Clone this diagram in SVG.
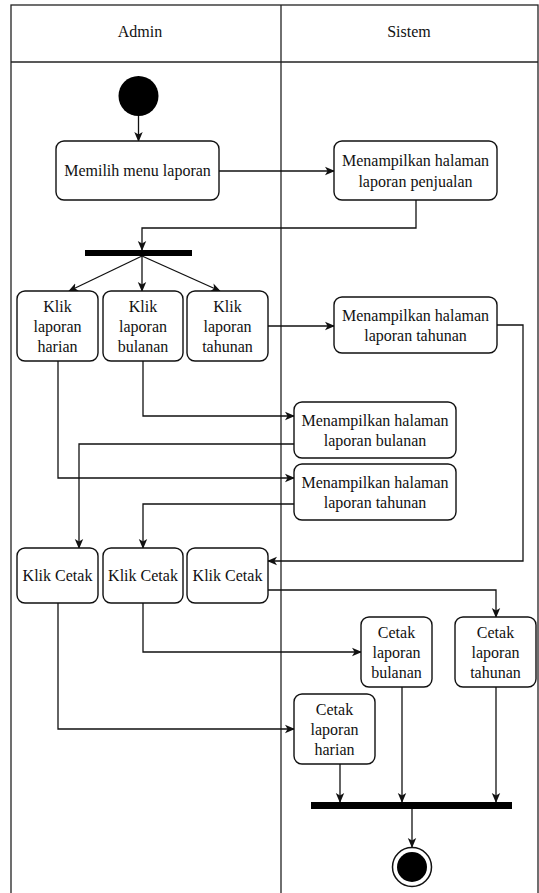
<svg xmlns="http://www.w3.org/2000/svg" width="539" height="893" viewBox="0 0 539 893">
  <style>
    .lane { fill: none; stroke: #222; stroke-width: 1.3; }
    .act rect { fill: #fff; stroke: #111; stroke-width: 1.4; }
    .act text, .hdr { font-family: "Liberation Serif", "Times New Roman", serif; font-size: 16px; fill: #111; text-anchor: middle; }
    .flow { fill: none; stroke: #111; stroke-width: 1.3; marker-end: url(#arrow); }
    .bar { fill: #000; }
  </style>
  <defs>
    <marker id="arrow" viewBox="0 0 10 10" refX="9" refY="5" markerWidth="10" markerHeight="10" markerUnits="userSpaceOnUse" orient="auto">
      <path d="M0,0.8 L10,5 L0,9.2 L2.6,5 Z" fill="#111"/>
    </marker>
  </defs>

  <!-- swimlane frame -->
  <g id="lanes">
    <rect class="lane" x="11" y="5" width="527" height="895"/>
    <line class="lane" x1="11" y1="62" x2="538" y2="62"/>
    <line class="lane" x1="281" y1="5" x2="281" y2="893"/>
    <text class="hdr" x="140" y="37">Admin</text>
    <text class="hdr" x="409" y="37">Sistem</text>
  </g>

  <!-- connectors -->
  <g id="connectors">
    <polyline class="flow" points="138.5,116 138.5,141"/>
    <polyline class="flow" points="219,171 334,171"/>
    <polyline class="flow" points="416,200 416,228 142,228 142,250"/>
    <polyline class="flow" points="142,256 69,291"/>
    <polyline class="flow" points="142,256 142,291"/>
    <polyline class="flow" points="142,256 220,291"/>
    <polyline class="flow" points="268,326 334,326"/>
    <polyline class="flow" points="497,325 523,325 523,561 268,561"/>
    <polyline class="flow" points="143,361 143,416 294,416"/>
    <polyline class="flow" points="294,444 79,444 79,548"/>
    <polyline class="flow" points="58,361 58,478 294,478"/>
    <polyline class="flow" points="294,504 143,504 143,548"/>
    <polyline class="flow" points="268,590 496,590 496,617"/>
    <polyline class="flow" points="143,603 143,652 361,652"/>
    <polyline class="flow" points="58,603 58,729 294,729"/>
    <polyline class="flow" points="340,764 340,802"/>
    <polyline class="flow" points="402,687 402,802"/>
    <polyline class="flow" points="496,687 496,802"/>
    <polyline class="flow" points="412,809 412,847"/>
  </g>

  <!-- start node -->
  <g id="start">
    <circle cx="138.5" cy="96" r="20" fill="#000"/>
  </g>

  <g id="memilihMenu" class="act">
    <rect x="56" y="141" width="163" height="59" rx="8"/>
    <text x="137.5" y="176">Memilih menu laporan</text>
  </g>

  <g id="tampilPenjualan" class="act">
    <rect x="334" y="141" width="163" height="59" rx="8"/>
    <text x="415.5" y="166">Menampilkan halaman</text>
    <text x="415.5" y="187">laporan penjualan</text>
  </g>

  <g id="forkBar">
    <rect class="bar" x="85" y="250" width="107" height="6"/>
  </g>

  <g id="klikHarian" class="act">
    <rect x="17" y="291" width="81" height="70" rx="8"/>
    <text x="57.5" y="311.5">Klik</text>
    <text x="57.5" y="331.5">laporan</text>
    <text x="57.5" y="351.5">harian</text>
  </g>

  <g id="klikBulanan" class="act">
    <rect x="103" y="291" width="80" height="70" rx="8"/>
    <text x="143" y="311.5">Klik</text>
    <text x="143" y="331.5">laporan</text>
    <text x="143" y="351.5">bulanan</text>
  </g>

  <g id="klikTahunan" class="act">
    <rect x="187" y="291" width="81" height="70" rx="8"/>
    <text x="227.5" y="311.5">Klik</text>
    <text x="227.5" y="331.5">laporan</text>
    <text x="227.5" y="351.5">tahunan</text>
  </g>

  <g id="tampilTahunanA" class="act">
    <rect x="334" y="297" width="163" height="56" rx="8"/>
    <text x="415.5" y="320.5">Menampilkan halaman</text>
    <text x="415.5" y="340.5">laporan tahunan</text>
  </g>

  <g id="tampilBulanan" class="act">
    <rect x="294" y="402" width="162" height="56" rx="8"/>
    <text x="375" y="425.5">Menampilkan halaman</text>
    <text x="375" y="445.5">laporan bulanan</text>
  </g>

  <g id="tampilTahunanB" class="act">
    <rect x="294" y="464" width="162" height="56" rx="8"/>
    <text x="375" y="487.5">Menampilkan halaman</text>
    <text x="375" y="507.5">laporan tahunan</text>
  </g>

  <g id="klikCetakHarian" class="act">
    <rect x="17" y="548" width="81" height="55" rx="8"/>
    <text x="57.5" y="581">Klik Cetak</text>
  </g>

  <g id="klikCetakBulanan" class="act">
    <rect x="103" y="548" width="80" height="55" rx="8"/>
    <text x="143" y="581">Klik Cetak</text>
  </g>

  <g id="klikCetakTahunan" class="act">
    <rect x="187" y="548" width="81" height="55" rx="8"/>
    <text x="227.5" y="581">Klik Cetak</text>
  </g>

  <g id="cetakBulanan" class="act">
    <rect x="361" y="617" width="71" height="70" rx="8"/>
    <text x="396.5" y="637.5">Cetak</text>
    <text x="396.5" y="657.5">laporan</text>
    <text x="396.5" y="677.5">bulanan</text>
  </g>

  <g id="cetakTahunan" class="act">
    <rect x="455" y="617" width="81" height="70" rx="8"/>
    <text x="495.5" y="637.5">Cetak</text>
    <text x="495.5" y="657.5">laporan</text>
    <text x="495.5" y="677.5">tahunan</text>
  </g>

  <g id="cetakHarian" class="act">
    <rect x="294" y="694" width="81" height="70" rx="8"/>
    <text x="334.5" y="714.5">Cetak</text>
    <text x="334.5" y="734.5">laporan</text>
    <text x="334.5" y="754.5">harian</text>
  </g>

  <g id="joinBar">
    <rect class="bar" x="311" y="802" width="201" height="7"/>
  </g>

  <!-- final node -->
  <g id="end">
    <circle cx="412" cy="867" r="19.5" fill="#fff" stroke="#111" stroke-width="1.5"/>
    <circle cx="412" cy="867" r="15" fill="#000"/>
  </g>
</svg>
